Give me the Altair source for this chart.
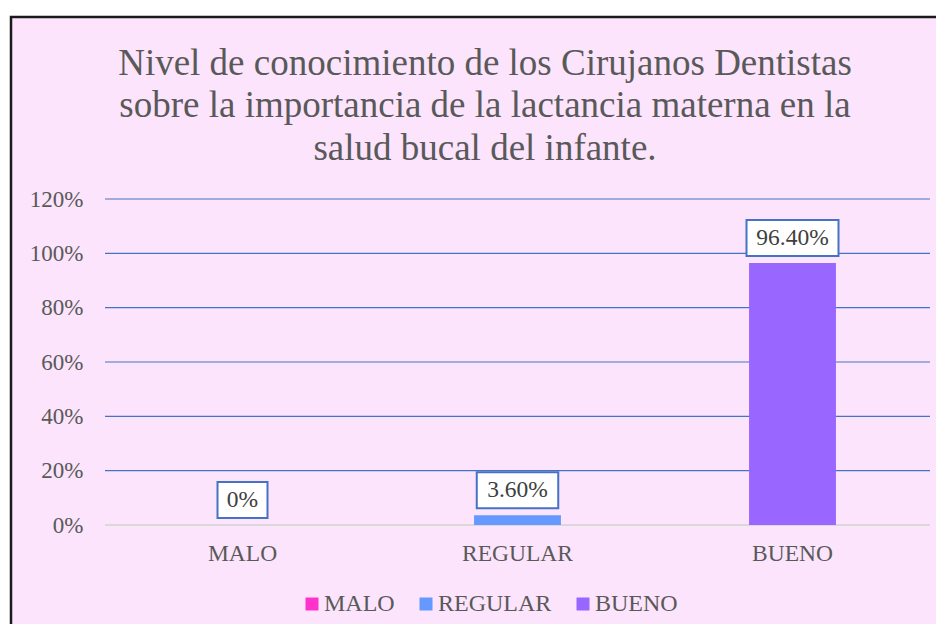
import altair as alt
import pandas as pd

# ---- data ----
categories = ["MALO", "REGULAR", "BUENO"]
values = [0.0, 0.036, 0.964]
labels = ["0%", "3.60%", "96.40%"]
bar_colors = ["#FF33CC", "#6699FF", "#9966FF"]
y_ticks = [0.0, 0.2, 0.4, 0.6, 0.8, 1.0, 1.2]
title_lines = [
    "Nivel de conocimiento de los Cirujanos Dentistas",
    "sobre la importancia de la lactancia materna en la",
    "salud bucal del infante.",
]

FONT = "Liberation Serif"
MARK_FONT = "Liberation Serif, Times New Roman, serif"
PINK = "#FCE4FC"
GREY_TXT = "#595959"
W, H = 825, 326

df = pd.DataFrame({"cat": categories, "val": values, "label": labels})
grid_df = pd.DataFrame({"t": y_ticks})

yscale = alt.Scale(domain=[0, 1.2])
xscale = alt.Scale(domain=categories, paddingInner=0.684, paddingOuter=0.342)

y_axis = alt.Axis(values=y_ticks, format=".0%", grid=False, domain=False, ticks=False,
                  labelFont=FONT, labelFontSize=23, labelColor=GREY_TXT, labelPadding=22,
                  title=None, zindex=1)
x_axis = alt.Axis(grid=False, domain=False, ticks=False, labelAngle=0,
                  labelFont=FONT, labelFontSize=23.5, labelColor=GREY_TXT, labelPadding=16,
                  title=None, zindex=1)

x_enc = alt.X("cat:N", sort=categories, scale=xscale, axis=x_axis)
y_enc = alt.Y("val:Q", scale=yscale, axis=y_axis)

frame = alt.Chart(pd.DataFrame({"a": [0]})).mark_rect(
    fill=PINK, stroke="#1a1a1a", strokeWidth=2.5
).encode(x=alt.value(-94), x2=alt.value(1000), y=alt.value(-182), y2=alt.value(700))

grid = alt.Chart(grid_df).transform_filter("datum.t > 0").mark_rule(
    color="#4472C4", strokeWidth=1.2
).encode(y=alt.Y("t:Q", scale=yscale, axis=y_axis))

zero = alt.Chart(grid_df).transform_filter("datum.t == 0").mark_rule(
    color="#D9D9D9", strokeWidth=2
).encode(y=alt.Y("t:Q", scale=yscale, axis=y_axis))

bars = alt.Chart(df).mark_bar().encode(
    x=x_enc,
    y=y_enc,
    color=alt.Color("cat:N", scale=alt.Scale(domain=categories, range=bar_colors),
                    legend=alt.Legend(orient="none", legendX=195, legendY=393,
                                      direction="horizontal", title=None,
                                      symbolType="square", symbolSize=169,
                                      symbolStrokeWidth=0, labelFont=FONT,
                                      labelFontSize=24, labelColor=GREY_TXT,
                                      columnPadding=19, labelOffset=0)),
)

boxes = alt.Chart(df).transform_calculate(
    w="length(datum.label) * 10.5 + 29"
).mark_bar(fill="white", stroke="#4472C4", strokeWidth=2, yOffset=-7, y2Offset=-43).encode(
    x=x_enc,
    y=y_enc,
    y2=alt.Y2("val:Q"),
    size=alt.Size("w:Q", scale=None, legend=None),
)

texts = alt.Chart(df).mark_text(
    dy=-25, baseline="middle", font=MARK_FONT, fontSize=23.5, color="#404040"
).encode(x=x_enc, y=y_enc, text="label:N")

title = alt.Chart(pd.DataFrame({"t": ["\n".join(title_lines)]})).mark_text(
    lineBreak="\n", font=MARK_FONT, fontSize=37, lineHeight=42.5, align="center",
    baseline="alphabetic", color=GREY_TXT
).encode(text="t:N", x=alt.value(380), y=alt.value(-124.5))

chart = alt.layer(frame, grid, zero, bars, boxes, texts, title).properties(
    width=W, height=H,
    autosize=alt.AutoSizeParams(type="none"),
    padding={"left": 97, "top": 191, "right": 6, "bottom": 99},
    background="white",
).configure_view(stroke=None)

chart.save("out.html", embed_options={"renderer": "svg", "actions": False})
